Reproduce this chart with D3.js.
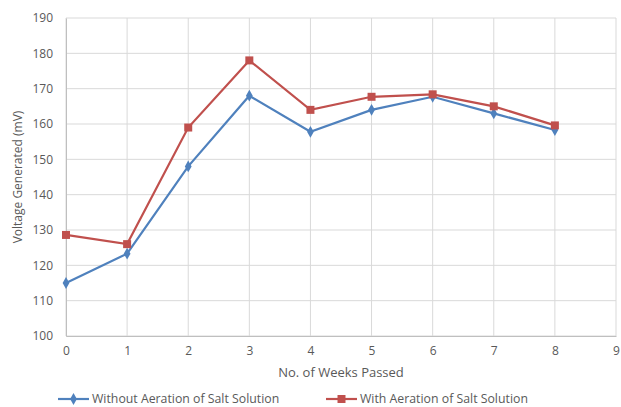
<!DOCTYPE html>
<html>
<head>
<meta charset="utf-8">
<script src="https://cdn.jsdelivr.net/npm/d3@7"></script>
<style>
  body { margin: 0; background: #fff; }
  text { font-family: "Open Sans", "Liberation Sans", sans-serif; fill: #595959; }
</style>
</head>
<body>
<script>
// data
var weeks = [0, 1, 2, 3, 4, 5, 6, 7, 8];
var withoutAeration = [115, 123.3, 148, 168, 157.8, 164, 167.7, 163, 158.3];
var withAeration = [128.6, 126, 159, 178, 164, 167.7, 168.4, 165, 159.6];
var xTicks = [0, 1, 2, 3, 4, 5, 6, 7, 8, 9];
var yTicks = [100, 110, 120, 130, 140, 150, 160, 170, 180, 190];

var width = 621, height = 407;
var margin = { top: 18, right: 5, bottom: 71, left: 66 };

var svg = d3.select("body").append("svg")
  .attr("width", width)
  .attr("height", height);

var x = d3.scaleLinear().domain([0, 9]).range([margin.left, width - margin.right]);
var y = d3.scaleLinear().domain([100, 190]).range([height - margin.bottom, margin.top]);

// grid
svg.append("g").selectAll("line")
  .data(yTicks).enter().append("line")
  .attr("x1", x(0)).attr("x2", x(9))
  .attr("y1", function (d) { return y(d); }).attr("y2", function (d) { return y(d); })
  .style("stroke", "#d9d9d9").style("stroke-width", 1);

svg.append("g").selectAll("line")
  .data(xTicks).enter().append("line")
  .attr("x1", function (d) { return x(d); }).attr("x2", function (d) { return x(d); })
  .attr("y1", y(100)).attr("y2", y(190))
  .style("stroke", "#d9d9d9").style("stroke-width", 1);

// axes
var xAxis = svg.append("g")
  .attr("transform", "translate(0," + y(100) + ")")
  .call(d3.axisBottom(x).tickValues(xTicks).tickSize(0).tickPadding(10));
xAxis.select(".domain").style("stroke", "#bfbfbf");
xAxis.selectAll("text").style("font-size", "12px").style("fill", "#595959");

var yAxis = svg.append("g")
  .attr("transform", "translate(" + x(0) + ",0)")
  .call(d3.axisLeft(y).tickValues(yTicks).tickSize(0).tickPadding(13));
yAxis.select(".domain").style("stroke", "#bfbfbf");
yAxis.selectAll("text").style("font-size", "12px").style("fill", "#595959");

// titles
svg.append("text")
  .attr("x", (x(0) + x(9)) / 2)
  .attr("y", 377)
  .attr("text-anchor", "middle")
  .style("font-size", "13px")
  .text("No. of Weeks Passed");

svg.append("text")
  .attr("transform", "translate(22," + (y(145)) + ") rotate(-90)")
  .attr("text-anchor", "middle")
  .style("font-size", "12px")
  .text("Voltage Generated (mV)");

// lines
var line = d3.line()
  .x(function (d, i) { return x(weeks[i]); })
  .y(function (d) { return y(d); });

svg.append("path")
  .datum(withoutAeration)
  .attr("d", line)
  .style("fill", "none")
  .style("stroke", "#4f81bd")
  .style("stroke-width", 2.2);

svg.append("path")
  .datum(withAeration)
  .attr("d", line)
  .style("fill", "none")
  .style("stroke", "#c0504d")
  .style("stroke-width", 2.2);

var diamond = d3.symbol().type(d3.symbolDiamond).size(40);
var square = d3.symbol().type(d3.symbolSquare).size(64);

svg.append("g").selectAll("path")
  .data(withoutAeration).enter().append("path")
  .attr("d", diamond)
  .attr("transform", function (d, i) { return "translate(" + x(weeks[i]) + "," + y(d) + ")"; })
  .style("fill", "#4f81bd");

svg.append("g").selectAll("path")
  .data(withAeration).enter().append("path")
  .attr("d", square)
  .attr("transform", function (d, i) { return "translate(" + x(weeks[i]) + "," + y(d) + ")"; })
  .style("fill", "#c0504d");

// legend
var legend = [
  { name: "Without Aeration of Salt Solution", color: "#4f81bd", sym: diamond, x: 58 },
  { name: "With Aeration of Salt Solution", color: "#c0504d", sym: square, x: 326 }
];

var lg = svg.append("g").selectAll("g")
  .data(legend).enter().append("g")
  .attr("transform", function (d) { return "translate(" + d.x + ",399)"; });

lg.append("line")
  .attr("x1", 0).attr("x2", 31)
  .style("stroke", function (d) { return d.color; })
  .style("stroke-width", 2.2);

lg.append("path")
  .attr("d", function (d) { return d.sym(); })
  .attr("transform", "translate(15.5,0)")
  .style("fill", function (d) { return d.color; });

lg.append("text")
  .attr("x", 34)
  .attr("dy", "0.35em")
  .style("font-size", "12.3px")
  .text(function (d) { return d.name; });
</script>
</body>
</html>
